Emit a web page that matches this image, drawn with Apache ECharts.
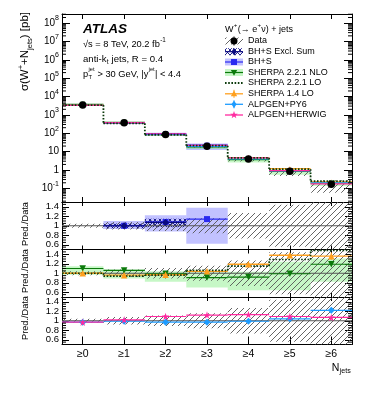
<!DOCTYPE html>
<html><head><meta charset="utf-8">
<script src="https://cdn.jsdelivr.net/npm/echarts@6/dist/echarts.min.js"></script>
<style>html,body{margin:0;padding:0;background:#fff}#c{width:374px;height:396px}</style>
</head><body><div id="c"></div>
<script>
// ---------------- data ----------------
const categories = ['≥0', '≥1', '≥2', '≥3', '≥4', '≥5', '≥6'];
const dataXsec = [3400, 370, 86, 19.7, 4.0, 0.85, 0.165];           // pb
const dataRelErr = [0.04, 0.08, 0.11, 0.16, 0.27, 0.44, 0.65];      // hatched band half-width
const bhsRatio = [null, 1.00, 1.08, 1.14, null, null, null];
const bhsLo = [null, 0.93, 0.88, 0.62, null, null, null];
const bhsHi = [null, 1.10, 1.22, 1.38, null, null, null];
const exclRatio = [null, 1.00, 1.07, null, null, null, null];
const exclLo = [null, 0.95, 0.97, null, null, null, null];
const exclHi = [null, 1.05, 1.15, null, null, null, null];
const nloRatio = [1.10, 1.06, 0.99, 0.91, 0.92, 0.99, 1.19];
const nloLo = [0.97, 0.89, 0.82, 0.70, 0.64, 0.64, 0.82];
const nloHi = [1.15, 1.08, 1.04, 1.02, 1.03, 1.24, 1.31];
const sh221LoRatio = [1.00, 0.94, 0.96, 1.06, 1.15, 1.29, 1.48];
const sh14Ratio = [1.00, 0.96, 0.97, 1.04, 1.19, 1.38, 1.36];
const sh14Err = [0, 0, 0, 0, 0.01, 0.02, 0.08];
const py6Ratio = [0.97, 0.99, 0.97, 0.97, 0.99, 1.04, 1.22];
const py6Err = [0, 0, 0, 0.01, 0.02, 0.03, 0.06];
const herwigRatio = [0.97, 1.02, 1.09, 1.12, 1.13, 1.09, 1.07];
const mainMajorTicks = [0.1, 1, 10, 1e2, 1e3, 1e4, 1e5, 1e6, 1e7, 1e8];
const mainMinorTicks = [];
for (let e = -2; e <= 8; e++) for (let m = 2; m <= 9; m++) mainMinorTicks.push(m * Math.pow(10, e));
const ratioMajorTicks = [0.6, 0.8, 1, 1.2, 1.4];
const ratioTickLabels = ['0.6', '0.8', '1', '1.2', '1.4'];
const ratioMinorTicks = [0.55, 0.65, 0.7, 0.75, 0.85, 0.9, 0.95, 1.05, 1.1, 1.15, 1.25, 1.3, 1.35, 1.45];
const unity = 1;

// ---------------- helpers ----------------
const FONT = '"Liberation Sans", Arial, Helvetica, sans-serif';
const C = {
  data: '#000', hatch: '#555', bhs: '#2a2af0', bhsBand: 'rgba(110,110,255,0.42)',
  excl: '#0a0a80', nlo: '#0b7a0b', nloBand: 'rgba(120,235,120,0.42)', lo: '#0b3a0b',
  sh14: '#ffa01e', py6: '#1e9cff', herwig: '#ff2aa0'
};
function hatchCanvas(color, cross, size) {
  const c = document.createElement('canvas'); c.width = c.height = size;
  const g = c.getContext('2d'); g.strokeStyle = color; g.lineWidth = 0.9;
  g.beginPath();
  g.moveTo(0, size); g.lineTo(size, 0);
  g.moveTo(-1, 1); g.lineTo(1, -1);
  g.moveTo(size - 1, size + 1); g.lineTo(size + 1, size - 1);
  if (cross) { g.moveTo(0, 0); g.lineTo(size, size); g.moveTo(size - 1, -1); g.lineTo(size + 1, 1); g.moveTo(-1, size - 1); g.lineTo(1, size + 1); }
  g.stroke();
  return c;
}
const dataHatch = { image: hatchCanvas(C.hatch, false, 6), repeat: 'repeat' };
const exclHatch = { image: hatchCanvas(C.excl, true, 5), repeat: 'repeat' };
const STAR = 'path://M50,0 L61,35 L98,35 L68,57 L79,91 L50,70 L21,91 L32,57 L2,35 L39,35 Z';

const mul = (r, d) => r.map((v, i) => v == null ? null : v * d[i]);

function clampY(cs, y) { return Math.max(cs.y, Math.min(cs.y + cs.height, y)); }

function segSeries(g, vals, color, width, dash, z) {
  return {
    type: 'custom', xAxisIndex: 2 * g, yAxisIndex: 2 * g, z, silent: true,
    data: vals.map((v, i) => v == null ? null : [i, v]).filter(Boolean),
    renderItem(params, api) {
      const cs = params.coordSys; const bw = cs.width / categories.length;
      const c = api.coord([api.value(0), api.value(1)]);
      if (c[1] < cs.y - 0.5 || c[1] > cs.y + cs.height + 0.5) return;
      return { type: 'line', shape: { x1: c[0] - bw / 2, y1: c[1], x2: c[0] + bw / 2, y2: c[1] },
        style: { stroke: color, lineWidth: width, lineDash: dash || null } };
    }
  };
}
function stepSeries(g, vals, color, width, dash, z) {
  return {
    type: 'custom', xAxisIndex: 2 * g, yAxisIndex: 2 * g, z, silent: true,
    data: vals.map((v, i) => [i, v, i > 0 ? vals[i - 1] : v]),
    renderItem(params, api) {
      const cs = params.coordSys; const bw = cs.width / categories.length;
      const c = api.coord([api.value(0), api.value(1)]);
      const p = api.coord([api.value(0), api.value(2)]);
      const y = clampY(cs, c[1]), yp = clampY(cs, p[1]);
      const st = { stroke: color, lineWidth: width, lineDash: dash || null };
      return { type: 'group', children: [
        { type: 'line', shape: { x1: c[0] - bw / 2, y1: y, x2: c[0] + bw / 2, y2: y }, style: st },
        { type: 'line', shape: { x1: c[0] - bw / 2, y1: yp, x2: c[0] - bw / 2, y2: y }, style: st }
      ] };
    }
  };
}
function bandSeries(g, lo, hi, fill, z) {
  return {
    type: 'custom', xAxisIndex: 2 * g, yAxisIndex: 2 * g, z, silent: true,
    data: lo.map((v, i) => v == null ? null : [i, v, hi[i]]).filter(Boolean),
    renderItem(params, api) {
      const cs = params.coordSys; const bw = cs.width / categories.length;
      const a = api.coord([api.value(0), api.value(1)]);
      const b = api.coord([api.value(0), api.value(2)]);
      const y1 = clampY(cs, Math.min(a[1], b[1])), y2 = clampY(cs, Math.max(a[1], b[1]));
      return { type: 'rect', shape: { x: a[0] - bw / 2, y: y1, width: bw, height: y2 - y1 }, style: { fill } };
    }
  };
}
function errSeries(g, vals, err, color, z) {
  return {
    type: 'custom', xAxisIndex: 2 * g, yAxisIndex: 2 * g, z, silent: true,
    data: vals.map((v, i) => (v == null || !err[i]) ? null : [i, v - err[i], v + err[i]]).filter(Boolean),
    renderItem(params, api) {
      const cs = params.coordSys;
      const a = api.coord([api.value(0), api.value(1)]);
      const b = api.coord([api.value(0), api.value(2)]);
      return { type: 'line', shape: { x1: a[0], y1: clampY(cs, a[1]), x2: a[0], y2: clampY(cs, b[1]) }, style: { stroke: color, lineWidth: 1 } };
    }
  };
}
function markSeries(g, vals, symbol, size, color, z, rot) {
  return {
    type: 'scatter', xAxisIndex: 2 * g, yAxisIndex: 2 * g, z, silent: true,
    symbol, symbolSize: size, symbolRotate: rot || 0,
    itemStyle: { color, opacity: 1 },
    data: vals.map((v, i) => v == null ? null : [i, v]).filter(Boolean)
  };
}
function tickSeries(g, vals, len) {
  return {
    type: 'custom', xAxisIndex: 2 * g, yAxisIndex: 2 * g, z: 20, silent: true,
    data: vals.map(v => [0, v]),
    renderItem(params, api) {
      const cs = params.coordSys;
      const y = api.coord([0, api.value(1)])[1];
      if (y < cs.y || y > cs.y + cs.height) return;
      const st = { stroke: '#000', lineWidth: 1 };
      return { type: 'group', children: [
        { type: 'line', shape: { x1: cs.x, y1: y, x2: cs.x + len, y2: y }, style: st },
        { type: 'line', shape: { x1: cs.x + cs.width - len, y1: y, x2: cs.x + cs.width, y2: y }, style: st }
      ] };
    }
  };
}
function labelSeries(g, vals, texts) {
  return {
    type: 'custom', xAxisIndex: 2 * g, yAxisIndex: 2 * g, z: 20, silent: true, clip: false,
    data: vals.map((v, i) => [0, v, i]),
    renderItem(params, api) {
      const cs = params.coordSys;
      const y = api.coord([0, api.value(1)])[1];
      return { type: 'text', x: cs.x - 3, y, style: { text: texts[api.value(2)], fill: '#000',
        font: '9.5px ' + FONT, align: 'right', verticalAlign: 'middle' } };
    }
  };
}
function unitySeries(g) {
  return {
    type: 'custom', xAxisIndex: 2 * g, yAxisIndex: 2 * g, z: 3, silent: true,
    data: [[0, unity]],
    renderItem(params, api) {
      const cs = params.coordSys; const y = api.coord([0, api.value(1)])[1];
      return { type: 'line', shape: { x1: cs.x, y1: y, x2: cs.x + cs.width, y2: y }, style: { stroke: '#555', lineWidth: 1 } };
    }
  };
}

// text helpers
const mctx = document.createElement('canvas').getContext('2d');
function tw(t, size, style) { mctx.font = (style || '') + ' ' + size + 'px ' + FONT; return mctx.measureText(t).width; }
function T(x, y, text, size, extra) {
  return { type: 'text', x, y, silent: true, z: 50,
    style: Object.assign({ text, fill: '#000', font: size + 'px ' + FONT, verticalAlign: 'middle', align: 'left' }, extra || {}) };
}
function rline(x, y, parts, size, ratio) {
  const els = []; let cx = x; const sm = size * (ratio || 0.68);
  parts.forEach(p => {
    if (p[1] === 'n') { els.push(T(cx, y, p[0], size)); cx += tw(p[0], size); }
    else if (p[1] === 'sup') { els.push(T(cx + 0.3, y - size * 0.45, p[0], sm)); cx += tw(p[0], sm) + 0.6; }
    else if (p[1] === 'sub') { els.push(T(cx + 0.3, y + size * 0.32, p[0], sm)); cx += tw(p[0], sm) + 0.6; }
    else if (p[1] === 'ss') { els.push(T(cx + 0.3, y - size * 0.45, p[0], sm)); els.push(T(cx + 0.3, y + size * 0.32, p[2], sm)); cx += Math.max(tw(p[0], sm), tw(p[2], sm)) + 0.6; }
  });
  return { els, width: cx - x };
}

// ---------------- layout ----------------
const L = 62, W = 290;
const grids = [
  { left: L, width: W, top: 14, height: 188 },
  { left: L, width: W, top: 202, height: 47.5 },
  { left: L, width: W, top: 249.5, height: 47.5 },
  { left: L, width: W, top: 297, height: 47.5 }
].map(g => Object.assign({ outerBoundsMode: 'none', containLabel: false, show: false }, g));

const xAxes = [];
[5, 4, 4, 8].forEach((blen, g) => {
  const tlen = g === 0 ? 5 : 4;
  xAxes.push({ type: 'category', gridIndex: g, data: categories, position: 'bottom', boundaryGap: true,
    axisLine: { show: true, lineStyle: { color: '#000', width: 1 } },
    axisTick: { show: true, inside: true, alignWithLabel: true, length: blen, lineStyle: { color: '#000' } },
    axisLabel: { show: g === 3, margin: 4, fontSize: 10.5, fontFamily: FONT, color: '#000', hideOverlap: false },
    splitLine: { show: false } });
  xAxes.push({ type: 'category', gridIndex: g, data: categories, position: 'top', boundaryGap: true,
    axisLine: { show: true, lineStyle: { color: '#000', width: 1 } },
    axisTick: { show: true, inside: true, alignWithLabel: true, length: tlen, lineStyle: { color: '#000' } },
    axisLabel: { show: false }, splitLine: { show: false } });
});

const supRich = {
  b: { fontSize: 10, fontFamily: FONT, color: '#000', lineHeight: 16, verticalAlign: 'middle' },
  s: { fontSize: 7, fontFamily: FONT, color: '#000', lineHeight: 8, verticalAlign: 'top' }
};
const yAxes = [];
yAxes.push({ type: 'log', logBase: 10, gridIndex: 0, min: 0.018, max: 3.1e8, position: 'left',
  axisLine: { show: true, lineStyle: { color: '#000' } },
  axisTick: { show: true, inside: true, length: 8, customValues: mainMajorTicks, lineStyle: { color: '#000' } },
  axisLabel: { show: true, margin: 3, customValues: mainMajorTicks, rich: supRich, hideOverlap: false,
    formatter: v => { const n = Math.round(Math.log10(v)); if (n === 0) return '{b|1}'; if (n === 1) return '{b|10}'; return '{b|10}{s|' + n + '}'; } },
  splitLine: { show: false }, minorTick: { show: false } });
yAxes.push({ type: 'log', logBase: 10, gridIndex: 0, min: 0.018, max: 3.1e8, position: 'right',
  axisLine: { show: true, lineStyle: { color: '#000' } },
  axisTick: { show: true, inside: true, length: 8, customValues: mainMajorTicks, lineStyle: { color: '#000' } },
  axisLabel: { show: false }, splitLine: { show: false } });
for (let g = 1; g <= 3; g++) {
  ['left', 'right'].forEach(pos => {
    yAxes.push({ type: 'value', gridIndex: g, min: 0.5, max: 1.5, position: pos,
      axisLine: { show: true, lineStyle: { color: '#000' } },
      axisTick: { show: true, inside: true, length: 7, customValues: ratioMajorTicks, lineStyle: { color: '#000' } },
      axisLabel: { show: false },
      splitLine: { show: false } });
  });
}

// ---------------- series ----------------
const series = [];
// main panel
const dLo = dataXsec.map((v, i) => v * (1 - dataRelErr[i]));
const dHi = dataXsec.map((v, i) => v * (1 + dataRelErr[i]));
series.push(bandSeries(0, mul(bhsLo, dataXsec), mul(bhsHi, dataXsec), C.bhsBand, 2));
series.push(bandSeries(0, mul(nloLo, dataXsec), mul(nloHi, dataXsec), C.nloBand, 2));
series.push(bandSeries(0, dLo, dHi, dataHatch, 3));
series.push(segSeries(0, mul(nloRatio, dataXsec), C.nlo, 1.2, null, 5));
series.push(segSeries(0, mul(sh14Ratio, dataXsec), C.sh14, 1.2, null, 5));
series.push(segSeries(0, mul(py6Ratio, dataXsec), C.py6, 1.2, null, 5));
series.push(segSeries(0, mul(bhsRatio, dataXsec), C.bhs, 1.2, null, 5));
series.push(segSeries(0, mul(herwigRatio, dataXsec), C.herwig, 1.2, null, 5));
series.push(stepSeries(0, mul(sh221LoRatio, dataXsec), C.lo, 1.8, [1.6, 1.6], 6));
series.push(markSeries(0, mul(nloRatio, dataXsec), 'triangle', 5, C.nlo, 7, 180));
series.push(markSeries(0, mul(sh14Ratio, dataXsec), 'triangle', 5, C.sh14, 7));
series.push(markSeries(0, mul(py6Ratio, dataXsec), 'diamond', 5, C.py6, 7));
series.push(markSeries(0, mul(bhsRatio, dataXsec), 'rect', 5, C.bhs, 7));
series.push(markSeries(0, mul(herwigRatio, dataXsec), STAR, 6, C.herwig, 7));
series.push(markSeries(0, dataXsec, 'circle', 7.5, C.data, 9));
series.push(tickSeries(0, mainMinorTicks, 4));

// ratio panel 1 : BH+S
series.push(bandSeries(1, bhsLo, bhsHi, C.bhsBand, 2));
series.push(bandSeries(1, exclLo, exclHi, exclHatch, 3));
series.push(bandSeries(1, dataRelErr.map(e => 1 - e), dataRelErr.map(e => 1 + e), dataHatch, 3));
series.push(unitySeries(1));
series.push(segSeries(1, bhsRatio, C.bhs, 1.2, null, 5));
series.push(segSeries(1, exclRatio, C.excl, 1.2, null, 5));
series.push(markSeries(1, bhsRatio, 'rect', 6, C.bhs, 7));
series.push(markSeries(1, exclRatio, 'diamond', 7, C.excl, 8));

// ratio panel 2 : SHERPA
series.push(bandSeries(2, nloLo, nloHi, C.nloBand, 2));
series.push(bandSeries(2, dataRelErr.map(e => 1 - e), dataRelErr.map(e => 1 + e), dataHatch, 3));
series.push(unitySeries(2));
series.push(segSeries(2, nloRatio, C.nlo, 1.2, null, 5));
series.push(segSeries(2, sh14Ratio, C.sh14, 1.4, null, 5));
series.push(stepSeries(2, sh221LoRatio, C.lo, 1.6, [1.6, 1.6], 6));
series.push(errSeries(2, sh14Ratio, sh14Err, C.sh14, 6));
series.push(markSeries(2, nloRatio, 'triangle', 6.5, C.nlo, 7, 180));
series.push(markSeries(2, sh14Ratio, 'triangle', 6.5, C.sh14, 7));

// ratio panel 3 : ALPGEN
series.push(bandSeries(3, dataRelErr.map(e => 1 - e), dataRelErr.map(e => 1 + e), dataHatch, 3));
series.push(unitySeries(3));
series.push(segSeries(3, py6Ratio, C.py6, 1.2, null, 5));
series.push(segSeries(3, herwigRatio, C.herwig, 1.2, null, 5));
series.push(errSeries(3, py6Ratio, py6Err, C.py6, 6));
series.push(markSeries(3, py6Ratio, 'diamond', 7, C.py6, 7));
series.push(markSeries(3, herwigRatio, STAR, 7.5, C.herwig, 8));

for (let g = 1; g <= 3; g++) {
  series.push(tickSeries(g, ratioMinorTicks, 4));
  series.push(labelSeries(g, ratioMajorTicks, ratioTickLabels));
}

// ---------------- texts & legend ----------------
const graphic = [];
graphic.push(T(83, 29, 'ATLAS', 13.5, { font: 'italic bold 13.5px ' + FONT }));
rline(83, 44, [['√s = 8 TeV, 20.2 fb', 'n'], ['-1', 'sup']], 9.3).els.forEach(e => graphic.push(e));
rline(83, 59, [['anti-k', 'n'], ['t', 'sub'], [' jets, R = 0.4', 'n']], 9.6).els.forEach(e => graphic.push(e));
rline(83, 74, [['p', 'n'], ['jet', 'ss', 'T'], [' > 30 GeV, |y', 'n'], ['jet', 'sup'], ['| < 4.4', 'n']], 9.3, 0.62).els.forEach(e => graphic.push(e));
rline(225, 29.5, [['W', 'n'], ['+', 'sup'], ['(→ e', 'n'], ['+', 'sup'], ['ν) + jets', 'n']], 9).els.forEach(e => graphic.push(e));
const nj = rline(0, 0, [['N', 'n'], ['jets', 'sub']], 10.5);
rline(351 - nj.width, 368, [['N', 'n'], ['jets', 'sub']], 10.5).els.forEach(e => graphic.push(e));

// y titles
const ttlRich = {
  n: { fontSize: 11.5, fontFamily: FONT, color: '#000', lineHeight: 17, verticalAlign: 'middle' },
  sup: { fontSize: 7.5, fontFamily: FONT, color: '#000', lineHeight: 8, verticalAlign: 'top' },
  sub: { fontSize: 7.5, fontFamily: FONT, color: '#000', lineHeight: 10, verticalAlign: 'bottom' }
};
graphic.push({ type: 'text', x: 25, y: 12, rotation: Math.PI / 2, silent: true,
  style: { text: '{n|σ(W}{sup|+}{n|+N}{sub|jets}{n|) [pb]}', rich: ttlRich, align: 'right', verticalAlign: 'middle' } });
[224, 271, 318].forEach(yc => graphic.push({ type: 'text', x: 25, y: yc, rotation: Math.PI / 2, silent: true,
  style: { text: 'Pred./Data', font: '9.2px ' + FONT, fill: '#000', align: 'center', verticalAlign: 'middle' } }));

// legend
const LX0 = 225, LX1 = 243, LXC = 234, LT = 248;
const legY = [41, 51.7, 62, 72.5, 83, 93.8, 104.3, 115];
const legNames = ['Data', 'BH+S Excl. Sum', 'BH+S', 'SHERPA 2.2.1 NLO', 'SHERPA 2.2.1 LO', 'SHERPA 1.4 LO', 'ALPGEN+PY6', 'ALPGEN+HERWIG'];
function box(y, fill) { return { type: 'rect', silent: true, z: 40, shape: { x: LX0, y: y - 3.5, width: LX1 - LX0, height: 7 }, style: { fill } }; }
function hl(y, color, w, dash) { return { type: 'line', silent: true, z: 41, shape: { x1: LX0, y1: y, x2: LX1, y2: y }, style: { stroke: color, lineWidth: w || 1.2, lineDash: dash || null } }; }
function vl(y, color, h) { return { type: 'line', silent: true, z: 41, shape: { x1: LXC, y1: y - h, x2: LXC, y2: y + h }, style: { stroke: color, lineWidth: 1 } }; }
function poly(y, pts, color) { return { type: 'polygon', silent: true, z: 42, shape: { points: pts.map(p => [LXC + p[0], y + p[1]]) }, style: { fill: color } }; }
const triUp = [[0, -3.2], [3.2, 2.4], [-3.2, 2.4]], triDn = [[0, 3.2], [3.2, -2.4], [-3.2, -2.4]];
const diam = [[0, -3.6], [2.6, 0], [0, 3.6], [-2.6, 0]];
const starPts = []; for (let k = 0; k < 10; k++) { const r = k % 2 ? 1.6 : 4; const a = -Math.PI / 2 + k * Math.PI / 5; starPts.push([r * Math.cos(a), r * Math.sin(a)]); }
let y;
y = legY[0]; graphic.push(box(y, dataHatch), vl(y, '#000', 4.5), { type: 'circle', silent: true, z: 42, shape: { cx: LXC, cy: y, r: 3.5 }, style: { fill: '#000' } });
y = legY[1]; graphic.push(box(y, exclHatch), hl(y, C.excl), poly(y, diam, C.excl));
y = legY[2]; graphic.push(box(y, C.bhsBand), hl(y, C.bhs), { type: 'rect', silent: true, z: 42, shape: { x: LXC - 3, y: y - 3, width: 6, height: 6 }, style: { fill: C.bhs } });
y = legY[3]; graphic.push(box(y, C.nloBand), hl(y, C.nlo), poly(y, triDn, C.nlo));
y = legY[4]; graphic.push(hl(y, C.lo, 1.8, [1.6, 1.6]));
y = legY[5]; graphic.push(hl(y, C.sh14, 1.3), vl(y, C.sh14, 4), poly(y, triUp, C.sh14));
y = legY[6]; graphic.push(hl(y, C.py6, 1.3), vl(y, C.py6, 4), poly(y, diam, C.py6));
y = legY[7]; graphic.push(hl(y, C.herwig, 1.3), poly(y, starPts, C.herwig));
legNames.forEach((n, i) => graphic.push(T(LT, legY[i], n, 9)));

const chart = echarts.init(document.getElementById('c'), null, { renderer: 'canvas' });
chart.setOption({
  animation: false,
  backgroundColor: '#fff',
  grid: grids,
  xAxis: xAxes,
  yAxis: yAxes,
  series,
  graphic
});
</script>
</body></html>
